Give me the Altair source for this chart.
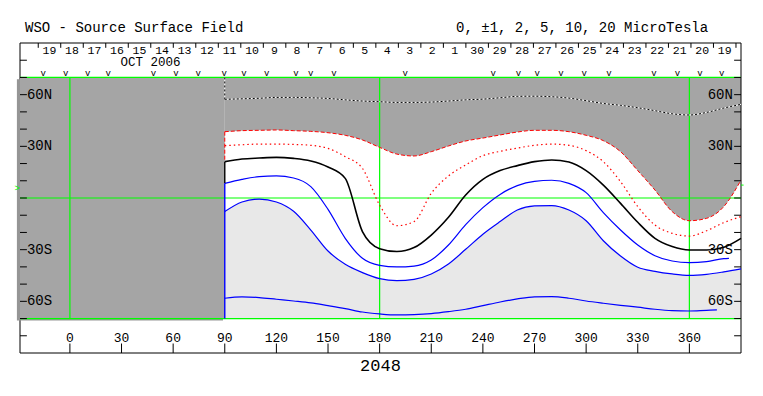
import altair as alt
import pandas as pd

# ---------------- data ----------------
LON = list(range(90, 391, 10))
LON5 = list(range(90, 381, 10)) + [383]
LON7 = list(range(90, 371, 10)) + [376]

# dotted black/white contour near 60N
L1 = [57.3, 57.6, 57.9, 58.4, 58.4, 58.2, 57.8, 57.0, 56.3, 55.9, 55.5, 55.5, 55.7, 56.3, 57.0, 57.4,
      58.2, 59.0, 59.1, 58.8, 58.0, 56.5, 54.9, 53.8, 52.4, 50.7, 48.9, 48.2, 49.7, 52.2, 54.4]
# red dashed contour (edge of dark region)
L2 = [38.5, 39.1, 39.3, 39.5, 39.1, 38.7, 37.9, 36.4, 33.7, 29.4, 25.5, 24.4, 26.9, 30.2, 33.1, 34.8,
      36.6, 38.3, 39.3, 39.3, 38.5, 36.4, 33.3, 26.9, 15.9, 4.6, -7.9, -13.2, -11.8, -5.0, 10.4]
# red dotted contour
L3 = [30.4, 30.9, 31.3, 31.3, 31.1, 30.6, 28.8, 24.0, 17.2, -4.1, -16.1, -13.7, 2.7, 12.8, 19.2, 24.6,
      27.1, 29.0, 30.6, 31.3, 30.6, 27.5, 21.1, 9.5, -5.0, -15.7, -20.5, -22.1, -19.0, -14.3, -10.8]
# neutral line
L4 = [21.1, 22.6, 23.2, 23.6, 23.0, 21.5, 18.0, 11.4, -19.5, -29.4, -31.1, -28.8, -21.5, -11.2, 1.7, 10.8,
      15.9, 18.8, 21.1, 22.1, 20.9, 15.9, 7.5, -3.1, -14.1, -23.4, -28.2, -30.2, -30.2, -28.6, -23.4]
# blue contours
L5 = [8.5, 10.8, 12.4, 12.8, 11.6, 6.6, -6.6, -23.4, -35.0, -39.1, -40.0, -39.5, -36.0, -27.3, -15.5, -5.6,
      2.1, 7.2, 9.7, 10.3, 8.5, 3.1, -8.5, -18.6, -27.3, -33.5, -36.6, -37.5, -36.9, -35.2, -35.0]
L6 = [-7.9, -2.3, -0.6, -2.3, -7.7, -18.6, -30.8, -38.5, -43.3, -46.8, -48.0, -47.2, -44.1, -38.3, -29.8, -21.0,
      -13.7, -7.0, -4.6, -4.4, -7.0, -13.2, -24.8, -33.7, -40.2, -42.6, -44.1, -44.9, -44.3, -42.9, -41.2]
L7 = [-58.2, -57.4, -57.8, -58.8, -59.8, -60.9, -62.5, -64.2, -66.2, -67.3, -67.9, -67.7, -67.1, -66.0, -64.6,
      -62.5, -60.4, -58.6, -57.4, -57.3, -58.2, -59.8, -61.1, -62.3, -63.4, -64.6, -65.4, -65.6, -65.2, -65.0]

DAYS = [19, 18, 17, 16, 15, 14, 13, 12, 11, 10, 9, 8, 7, 6, 5, 4, 3, 2, 1,
        30, 29, 28, 27, 26, 25, 24, 23, 22, 21, 20, 19]
DAY_START = -18.4
DAY_STEP = 13.08
V_LONS = [-15.5, -2.4, 10.3, 22.3, 48.5, 61.7, 74.6, 89.7, 101.2, 114.4, 131.4, 139.9, 153.5,
          194.9, 246.0, 260.6, 271.6, 285.4, 298.9, 313.3, 339.4, 353.0, 366.2, 378.8]
LAT_TICKS = list(range(-80, 81, 10))
LAT_VALUES = [60, 30, -30, -60]
LAT_TEXT = ["60N", "30N", "30S", "60S"]
LON_TICKS = list(range(0, 361, 30))
B0 = 6.0

X_DOMAIN = [-29, 390]
Y_DOMAIN = [-90, 90]

FONT = "Liberation Mono"
DARK = "#a5a5a5"
LIGHT = "#e8e8e8"
GREEN = "#00ff00"

xs = alt.Scale(domain=X_DOMAIN, nice=False, zero=False)
ys = alt.Scale(domain=Y_DOMAIN, nice=False, zero=False)


def X(f):
    return alt.X(f, type="quantitative", scale=xs, axis=None)


def Y(f):
    return alt.Y(f, type="quantitative", scale=ys, axis=None)


def rules(df, color, width=1.0, dash=None):
    kw = dict(color=color, strokeWidth=width)
    if dash:
        kw["strokeDash"] = dash
    return alt.Chart(df).mark_rule(**kw).encode(
        x=X("x"), x2=alt.X2("x2"), y=Y("y"), y2=alt.Y2("y2"))


def line(lons, lats, color, width=1.0, dash=None):
    kw = dict(color=color, strokeWidth=width, interpolate="monotone")
    if dash:
        kw["strokeDash"] = dash
    df = pd.DataFrame({"lon": lons, "lat": lats})
    return alt.Chart(df).mark_line(**kw).encode(x=X("lon"), y=Y("lat"))


def texts(df, size, align="center", color="black", baseline="middle"):
    return alt.Chart(df).mark_text(font=FONT, fontSize=size, align=align, baseline=baseline,
                                   color=color).encode(x=X("x"), y=Y("y"), text="t:N")


layers = []

# shaded regions
dark_df = pd.DataFrame({"lon": LON, "lat": L2, "top": 70})
layers.append(alt.Chart(dark_df).mark_area(color=DARK, interpolate="monotone").encode(
    x=X("lon"), y=Y("lat"), y2=alt.Y2("top")))
light_df = pd.DataFrame({"lon": LON, "lat": L6, "bot": -70})
layers.append(alt.Chart(light_df).mark_area(color=LIGHT, interpolate="monotone").encode(
    x=X("lon"), y=Y("lat"), y2=alt.Y2("bot")))

# frame
frame = pd.DataFrame({
    "x": [-29, -29, -29, 390], "x2": [390, 390, -29, 390],
    "y": [90, -90, -90, -90], "y2": [90, -90, 90, 90]})
layers.append(rules(frame, "black", 1))

# left block (no data) with shadow
shadow = pd.DataFrame({"x": [-30.8], "x2": [89], "y": [-71.2], "y2": [69]})
layers.append(alt.Chart(shadow).mark_rect(color="#959595").encode(
    x=X("x"), x2=alt.X2("x2"), y=Y("y"), y2=alt.Y2("y2")))
block = pd.DataFrame({"x": [-29], "x2": [90], "y": [-70], "y2": [70]})
layers.append(alt.Chart(block).mark_rect(color=DARK).encode(
    x=X("x"), x2=alt.X2("x2"), y=Y("y"), y2=alt.Y2("y2")))

# green grid lines
green = pd.DataFrame({
    "x": [0, 180, 360, -29, -29, -29], "x2": [0, 180, 360, 390, 390, 390],
    "y": [-70, -70, -70, 70, 0, -70], "y2": [70, 70, 70, 70, 0, -70]})
layers.append(rules(green, GREEN, 1.2))

# contours
layers.append(line(LON, L1, "white", 1))
layers.append(line(LON, L1, "black", 1, [2, 2]))
layers.append(line(LON, L2, "red", 1, [4, 2]))
layers.append(line(LON, L3, "red", 1.2, [1.5, 3]))
layers.append(line(LON, L4, "black", 1.6))
layers.append(line(LON5, L5, "blue", 1.2))
layers.append(line(LON, L6, "blue", 1.2))
layers.append(line(LON7, L7, "blue", 1.2))

# edge of data at 90
edge_top = pd.DataFrame({"x": [90], "x2": [90], "y": [70], "y2": [L1[0]]})
layers.append(rules(edge_top, "white", 1))
layers.append(rules(edge_top, "black", 1, [2, 2]))
layers.append(rules(pd.DataFrame({"x": [90], "x2": [90], "y": [L2[0]], "y2": [L4[0]]}), "red", 1, [4, 2]))
layers.append(rules(pd.DataFrame({"x": [90], "x2": [90], "y": [L4[0]], "y2": [L5[0]]}), "black", 1.4))
layers.append(rules(pd.DataFrame({"x": [90], "x2": [90], "y": [L5[0]], "y2": [-70]}), "blue", 1.4))

# latitude edge ticks
lt = pd.DataFrame({"y": LAT_TICKS + LAT_TICKS, "y2": LAT_TICKS + LAT_TICKS,
                   "x": [-29] * len(LAT_TICKS) + [386] * len(LAT_TICKS),
                   "x2": [-25] * len(LAT_TICKS) + [390] * len(LAT_TICKS)})
layers.append(rules(lt, "black", 1))
layers.append(texts(pd.DataFrame({"x": [-25] * 4, "y": LAT_VALUES, "t": LAT_TEXT}), 14, "left"))
layers.append(texts(pd.DataFrame({"x": [385.3] * 4, "y": LAT_VALUES, "t": LAT_TEXT}), 14, "right"))

# bottom longitude ticks
bt = pd.DataFrame({"x": LON_TICKS, "x2": LON_TICKS, "y": [-84.5] * len(LON_TICKS), "y2": [-90] * len(LON_TICKS)})
layers.append(rules(bt, "black", 1))
layers.append(texts(pd.DataFrame({"x": LON_TICKS, "y": [-81.2] * len(LON_TICKS),
                                  "t": [str(v) for v in LON_TICKS]}), 13))

# day ticks and labels
day_edges = [DAY_START + i * DAY_STEP for i in range(len(DAYS) + 1)]
dt = pd.DataFrame({"x": day_edges, "x2": day_edges, "y": [90] * len(day_edges), "y2": [87.2] * len(day_edges)})
layers.append(rules(dt, "black", 1))
layers.append(texts(pd.DataFrame({"x": [DAY_START + (i + 0.5) * DAY_STEP for i in range(len(DAYS))],
                                  "y": [85.6] * len(DAYS), "t": [str(d) for d in DAYS]}), 11.5))
layers.append(texts(pd.DataFrame({"x": [46.8], "y": [78.7], "t": ["OCT 2006"]}), 12.5))
layers.append(texts(pd.DataFrame({"x": V_LONS, "y": [72.3] * len(V_LONS), "t": ["v"] * len(V_LONS)}), 9))

# headings
layers.append(texts(pd.DataFrame({"x": [-26.1], "y": [98.7], "t": ["WSO - Source Surface Field"]}), 14, "left"))
layers.append(texts(pd.DataFrame({"x": [224.4], "y": [98.7], "t": ["0, \u00b11, 2, 5, 10, 20 MicroTesla"]}), 14, "left"))
layers.append(texts(pd.DataFrame({"x": [180.5], "y": [-97.5], "t": ["2048"]}), 17))

# B0 markers
layers.append(texts(pd.DataFrame({"x": [-30.6], "y": [B0], "t": [">"]}), 9, "center", GREEN))
layers.append(rules(pd.DataFrame({"x": [390], "x2": [391.5], "y": [B0 + 1.5], "y2": [B0 + 1.5]}), GREEN, 1))

chart = alt.layer(*layers).properties(
    width=721, height=310,
    padding={"left": 12, "top": 35, "right": 14, "bottom": 35},
    autosize=alt.AutoSizeParams(type="none"),
    background="white",
).configure_view(stroke=None)

chart.save("out.html", embed_options={"renderer": "svg", "actions": False})
